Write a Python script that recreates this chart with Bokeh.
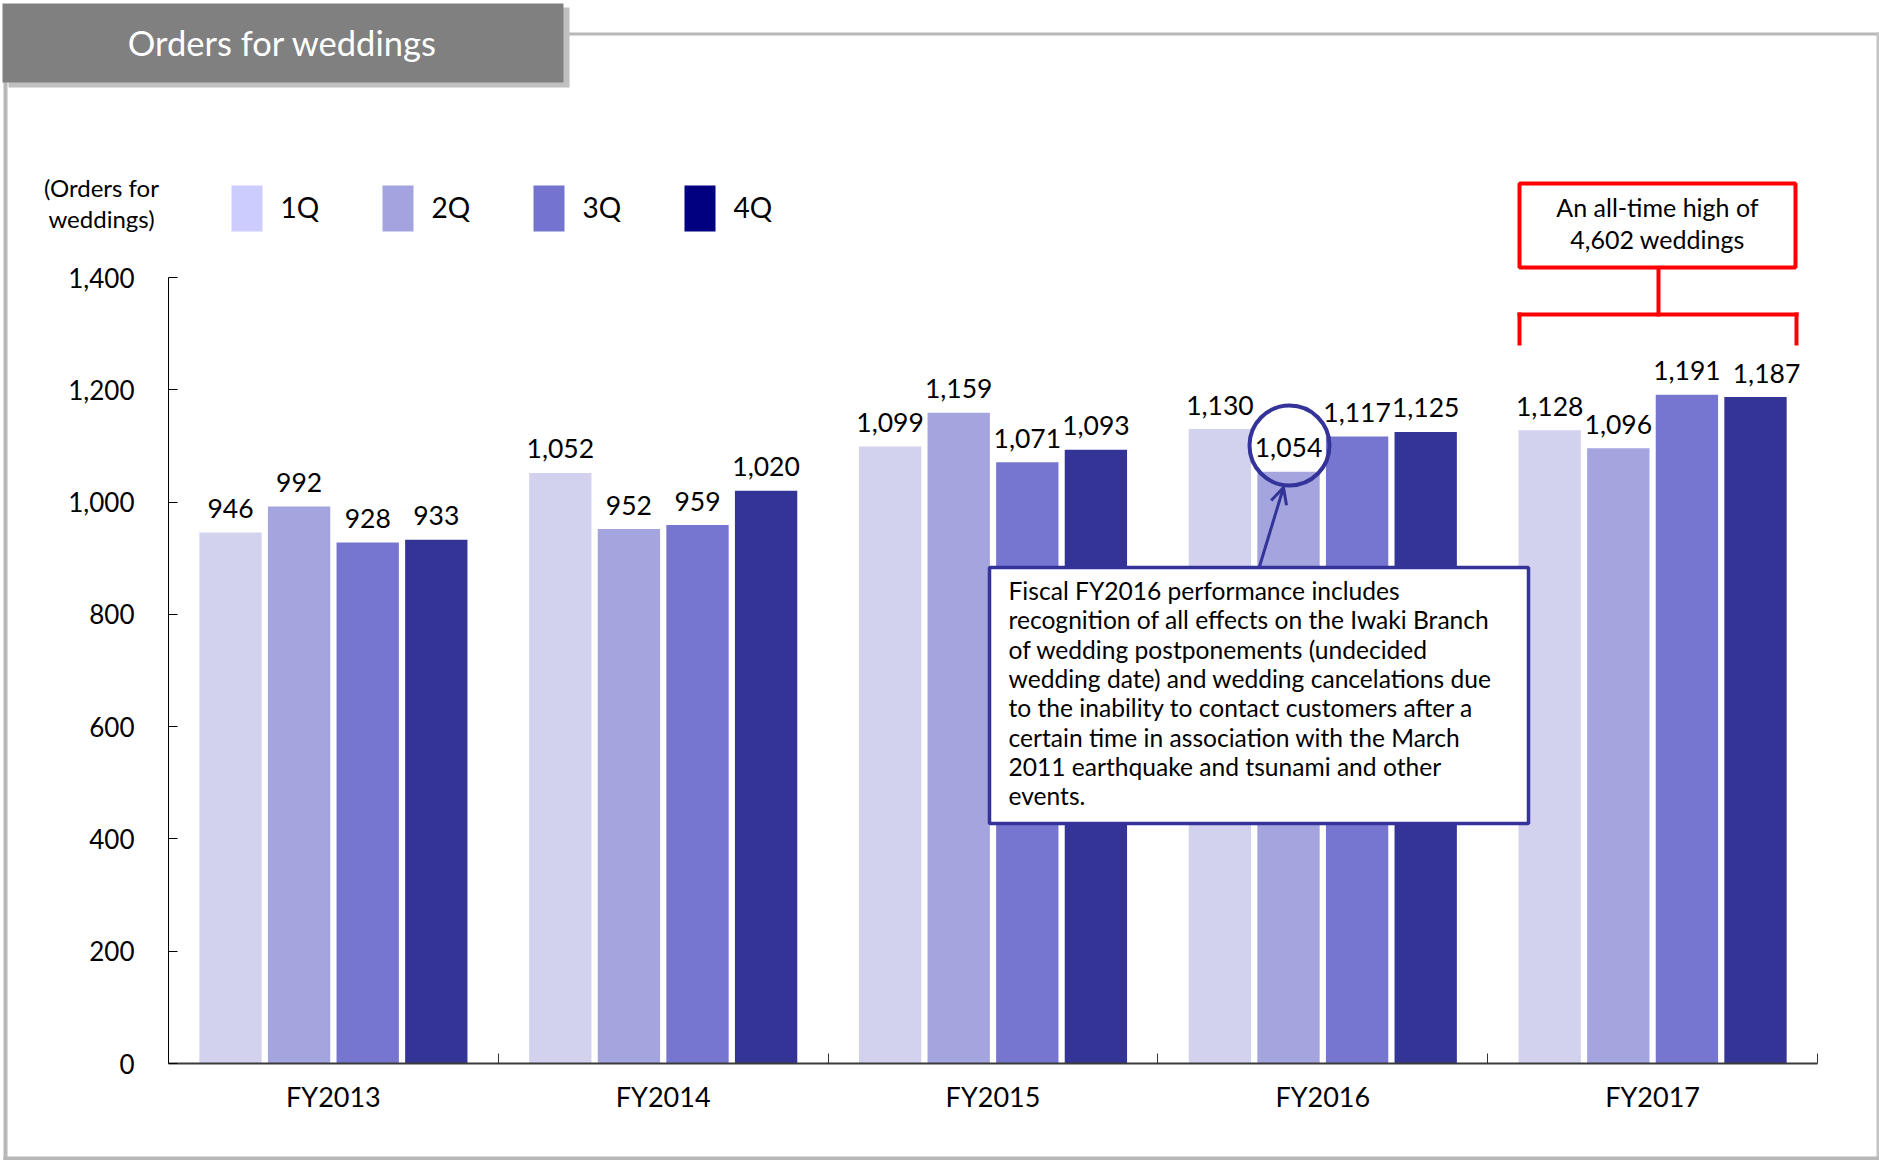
from bokeh.plotting import figure
from bokeh.models import (ColumnDataSource, Range1d, BoxAnnotation, Label, LinearAxis,
                          Arrow, OpenHead, NumeralTickFormatter, FixedTicker)
from bokeh.transform import dodge
from bokeh.core.properties import value
from bokeh.embed import file_html
from bokeh.resources import INLINE

# ---------------- data ----------------
years = ["FY2013", "FY2014", "FY2015", "FY2016", "FY2017"]
quarters = ["1Q", "2Q", "3Q", "4Q"]
q1 = [946, 1052, 1099, 1130, 1128]
q2 = [992, 952, 1159, 1054, 1096]
q3 = [928, 959, 1071, 1117, 1191]
q4 = [933, 1020, 1093, 1125, 1187]
y_ticks = [0, 200, 400, 600, 800, 1000, 1200, 1400]

title_text = "Orders for weddings"
unit_lines = ["(Orders for", "weddings)"]
highlight_lines = ["An all-time high of", "4,602 weddings"]
note_lines = [
    "Fiscal FY2016 performance includes",
    "recognition of all effects on the Iwaki Branch",
    "of wedding postponements (undecided",
    "wedding date) and wedding cancelations due",
    "to the inability to contact customers after a",
    "certain time in association with the March",
    "2011 earthquake and tsunami and other",
    "events.",
]

bar_colors = ["#D2D2EF", "#A4A4DE", "#7676D0", "#343496"]
legend_colors = ["#CCCCFF", "#A3A3E0", "#7474D0", "#000080"]
FONT = "Lato"

# ---------------- layout (pixel coordinates of the picture) ----------------
W, H = 1879, 1160
PL, PR, PT, PB = 168, 1817, 277, 1063   # plot area edges in pixels
YMAX = 1400
NG = len(years)
# small horizontal nudges (px) of individual value labels, as in the original
label_nudge = {("q4", 4): 11}


def X(px):
    return (px - PL) * NG / (PR - PL)


def Y(py):
    return (PB - py) * YMAX / (PB - PT)


cols = ["q1", "q2", "q3", "q4"]
centers = [i + 0.5 for i in range(NG)]
data = dict(xc=centers, q1=q1, q2=q2, q3=q3, q4=q4)
for c in cols:
    data["l" + c] = [f"{v:,}" for v in data[c]]
    data["n" + c] = [label_nudge.get((c, i), 0) for i in range(NG)]
src = ColumnDataSource(data)

p = figure(width=W, height=H, title=None,
           x_range=Range1d(X(0), X(W)), y_range=Range1d(Y(H), Y(0)),
           x_axis_location=None, y_axis_location=None,
           output_backend="svg", toolbar_location=None,
           min_border=0, min_border_left=0, min_border_right=0,
           min_border_top=0, min_border_bottom=0)
p.outline_line_color = None
p.xgrid.grid_line_color = None
p.ygrid.grid_line_color = None
p.background_fill_color = "white"
p.border_fill_color = "white"


def box(l, t, r, b, **kw):
    return BoxAnnotation(left=X(l), right=X(r), top=Y(t), bottom=Y(b), **kw)


def label(x, y, text, size, align="left", color="black", baseline="middle"):
    return Label(x=X(x), y=Y(y), text=text, text_font=FONT, text_font_size=f"{size}px",
                 text_align=align, text_baseline=baseline, text_color=color)


# ---------------- frame / title ----------------
border = "#B8B8B8"
p.add_layout(box(3, 33, 7, 1160, fill_color=border, fill_alpha=1, line_color=None))
p.add_layout(box(560, 32, 1879, 35, fill_color=border, fill_alpha=1, line_color=None))
p.add_layout(box(1876, 32, 1879, 1160, fill_color="#C4C4C4", fill_alpha=1, line_color=None))
p.add_layout(box(3, 1156, 1879, 1160, fill_color=border, fill_alpha=1, line_color=None))
p.add_layout(box(8, 7, 569, 87, fill_color="#C0C0C0", fill_alpha=1, line_color=None))
p.add_layout(box(2, 3, 563, 82, fill_color="#808080", fill_alpha=1, line_color=None))
p.add_layout(label(282, 42, title_text, 34.5, align="center", color="white"))

# ---------------- bars ----------------
step = 0.208
bw = 0.189
offsets = [-1.5 * step, -0.5 * step, 0.5 * step, 1.5 * step]
for c, off, col in zip(cols, offsets, bar_colors):
    p.vbar(x=dodge("xc", off), top=c, width=bw, source=src,
           fill_color=col, line_color=None)
for c, off in zip(cols, offsets):
    p.text(x=dodge("xc", off), y=c, text="l" + c, x_offset="n" + c, source=src,
           text_font=value(FONT), text_font_size="26.5px", text_align="center",
           text_baseline="alphabetic", y_offset=-24, text_color="black")

# ---------------- axes (drawn at fixed locations) ----------------
yaxis = LinearAxis(fixed_location=0, bounds=(0, YMAX), ticker=FixedTicker(ticks=y_ticks),
                   formatter=NumeralTickFormatter(format="0,0"))
yaxis.major_tick_in = 9
yaxis.major_tick_out = 0
yaxis.minor_tick_line_color = None
yaxis.axis_line_color = "black"
yaxis.major_tick_line_color = "black"
yaxis.major_label_standoff = 34
yaxis.major_label_text_font = FONT
yaxis.major_label_text_font_size = "26px"
yaxis.major_label_text_color = "black"
p.add_layout(yaxis, "left")

xaxis = LinearAxis(fixed_location=0, bounds=(0, NG), ticker=FixedTicker(ticks=centers),
                   major_label_overrides={c: y for c, y in zip(centers, years)})
xaxis.major_tick_line_color = None
xaxis.minor_tick_line_color = None
xaxis.axis_line_color = "#3a3a3a"
xaxis.axis_line_width = 2
xaxis.major_label_standoff = 10
xaxis.major_label_text_font = FONT
xaxis.major_label_text_font_size = "27px"
xaxis.major_label_text_color = "black"
p.add_layout(xaxis, "below")

# category boundary ticks
xticks = LinearAxis(fixed_location=0, bounds=(0, NG),
                    ticker=FixedTicker(ticks=[i + 1 for i in range(NG)]))
xticks.axis_line_color = None
xticks.major_tick_in = 10
xticks.major_tick_out = 0
xticks.major_tick_line_color = "#333333"
xticks.minor_tick_line_color = None
xticks.major_label_text_font_size = "0px"
xticks.major_label_text_alpha = 0
p.add_layout(xticks, "below")

# ---------------- legend ----------------
for i, (q, col) in enumerate(zip(quarters, legend_colors)):
    x0 = 231 + i * 151
    p.add_layout(box(x0, 185, x0 + 31, 231, fill_color=col, fill_alpha=1, line_color=None))
    p.add_layout(label(x0 + 49, 206, q, 28))
for i, t in enumerate(unit_lines):
    p.add_layout(label(101, 187 + i * 31, t, 24, align="center"))

# ---------------- all-time-high callout ----------------
red = "#FF0000"
p.add_layout(box(1519, 183, 1795, 267, fill_color="white", fill_alpha=1,
                 line_color=red, line_width=4, line_alpha=1))
for i, t in enumerate(highlight_lines):
    p.add_layout(label(1657, 206 + i * 32, t, 25, align="center"))
p.add_layout(box(1656, 267, 1660, 316, fill_color=red, fill_alpha=1, line_color=None))
p.add_layout(box(1517, 312, 1798, 316, fill_color=red, fill_alpha=1, line_color=None))
p.add_layout(box(1517, 312, 1521, 345, fill_color=red, fill_alpha=1, line_color=None))
p.add_layout(box(1794, 312, 1798, 345, fill_color=red, fill_alpha=1, line_color=None))

# ---------------- FY2016 note ----------------
navy = "#333399"
p.scatter(x=[X(1289)], y=[Y(445)], size=80, marker="circle", fill_color=None,
          line_color=navy, line_width=4)
p.add_layout(Arrow(end=OpenHead(size=16, line_color=navy, line_width=3),
                   x_start=X(1259), y_start=Y(566), x_end=X(1283), y_end=Y(487),
                   line_color=navy, line_width=3))
p.add_layout(box(989, 567, 1528, 823, fill_color="white", fill_alpha=1,
                 line_color=navy, line_width=3.5, line_alpha=1))
for i, t in enumerate(note_lines):
    p.add_layout(label(1008, 590 + i * 29.3, t, 24.6))

open("out.html", "w").write(file_html(p, INLINE))
